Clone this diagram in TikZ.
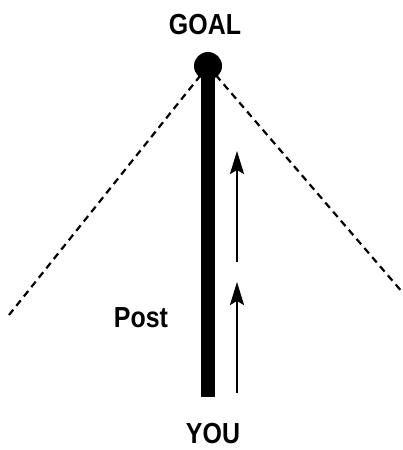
\documentclass[tikz,border=0pt]{standalone}
\usepackage{fontspec}
\setmainfont{Liberation Sans}
\usetikzlibrary{arrows.meta}
\tikzset{
  dashline/.style={line width=2.2pt, dash pattern=on 7pt off 5pt},
  label/.style={font=\fontsize{29}{29}\selectfont\bfseries, inner sep=0pt, xscale=0.86},
  thinarrow/.style={line width=2pt, -{Stealth[length=23pt,width=14pt,inset=4pt]}}
}
\begin{document}
\begin{tikzpicture}[x=1pt,y=-1pt]
\useasboundingbox (0,0) rectangle (403,450);
\coordinate (top) at (208,66);
\coordinate (base) at (208,397);
\coordinate (L) at (9,315);
\coordinate (R) at (403,293);
\draw[dashline] (top) -- (L);
\draw[dashline] (top) -- (R);
\draw[line width=14pt] (top) -- (base);
\fill (top) circle (14);
\node[label] (goal) at (205,25) {GOAL};
\node[label] (you) at (213,434) {YOU};
\node[label] (post) at (141,318) {Post};
\coordinate (a1s) at (237,262);
\coordinate (a1e) at (237,151);
\coordinate (a2s) at (237,393);
\coordinate (a2e) at (237,282);
\draw[thinarrow] (a1s) -- (a1e);
\draw[thinarrow] (a2s) -- (a2e);
\end{tikzpicture}
\end{document}
